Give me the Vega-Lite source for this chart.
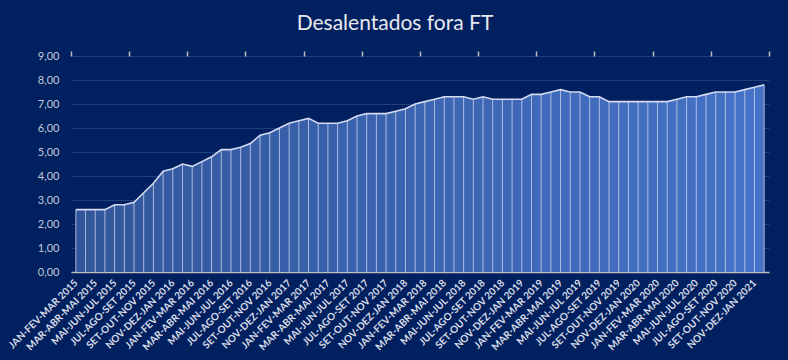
{
  "$schema": "https://vega.github.io/schema/vega-lite/v6.json",
  "autosize": "none",
  "width": 698,
  "height": 216,
  "padding": {"left": 71, "top": 56, "right": 19, "bottom": 88},
  "background": "#002060",
  "config": {
    "view": {"stroke": null},
    "font": "Lato"
  },
  "title": {
    "text": "Desalentados fora FT",
    "font": "Lato",
    "fontSize": 21,
    "fontWeight": "normal",
    "color": "#e8e8ec",
    "anchor": "middle",
    "dx": -25,
    "offset": 16
  },
  "data": {
    "values": [
      {"i": 0, "periodo": "JAN-FEV-MAR 2015", "valor": 2.6},
      {"i": 1, "periodo": "FEV-MAR-ABR 2015", "valor": 2.6},
      {"i": 2, "periodo": "MAR-ABR-MAI 2015", "valor": 2.6},
      {"i": 3, "periodo": "ABR-MAI-JUN 2015", "valor": 2.6},
      {"i": 4, "periodo": "MAI-JUN-JUL 2015", "valor": 2.8},
      {"i": 5, "periodo": "JUN-JUL-AGO 2015", "valor": 2.8},
      {"i": 6, "periodo": "JUL-AGO-SET 2015", "valor": 2.9},
      {"i": 7, "periodo": "AGO-SET-OUT 2015", "valor": 3.3},
      {"i": 8, "periodo": "SET-OUT-NOV 2015", "valor": 3.7},
      {"i": 9, "periodo": "OUT-NOV-DEZ 2015", "valor": 4.2},
      {"i": 10, "periodo": "NOV-DEZ-JAN 2016", "valor": 4.3},
      {"i": 11, "periodo": "DEZ-JAN-FEV 2016", "valor": 4.5},
      {"i": 12, "periodo": "JAN-FEV-MAR 2016", "valor": 4.4},
      {"i": 13, "periodo": "FEV-MAR-ABR 2016", "valor": 4.6},
      {"i": 14, "periodo": "MAR-ABR-MAI 2016", "valor": 4.8},
      {"i": 15, "periodo": "ABR-MAI-JUN 2016", "valor": 5.1},
      {"i": 16, "periodo": "MAI-JUN-JUL 2016", "valor": 5.1},
      {"i": 17, "periodo": "JUN-JUL-AGO 2016", "valor": 5.2},
      {"i": 18, "periodo": "JUL-AGO-SET 2016", "valor": 5.35},
      {"i": 19, "periodo": "AGO-SET-OUT 2016", "valor": 5.7},
      {"i": 20, "periodo": "SET-OUT-NOV 2016", "valor": 5.8},
      {"i": 21, "periodo": "OUT-NOV-DEZ 2016", "valor": 6.0},
      {"i": 22, "periodo": "NOV-DEZ-JAN 2017", "valor": 6.2},
      {"i": 23, "periodo": "DEZ-JAN-FEV 2017", "valor": 6.3},
      {"i": 24, "periodo": "JAN-FEV-MAR 2017", "valor": 6.4},
      {"i": 25, "periodo": "FEV-MAR-ABR 2017", "valor": 6.2},
      {"i": 26, "periodo": "MAR-ABR-MAI 2017", "valor": 6.2},
      {"i": 27, "periodo": "ABR-MAI-JUN 2017", "valor": 6.2},
      {"i": 28, "periodo": "MAI-JUN-JUL 2017", "valor": 6.3},
      {"i": 29, "periodo": "JUN-JUL-AGO 2017", "valor": 6.5},
      {"i": 30, "periodo": "JUL-AGO-SET 2017", "valor": 6.6},
      {"i": 31, "periodo": "AGO-SET-OUT 2017", "valor": 6.6},
      {"i": 32, "periodo": "SET-OUT-NOV 2017", "valor": 6.6},
      {"i": 33, "periodo": "OUT-NOV-DEZ 2017", "valor": 6.7},
      {"i": 34, "periodo": "NOV-DEZ-JAN 2018", "valor": 6.8},
      {"i": 35, "periodo": "DEZ-JAN-FEV 2018", "valor": 7.0},
      {"i": 36, "periodo": "JAN-FEV-MAR 2018", "valor": 7.1},
      {"i": 37, "periodo": "FEV-MAR-ABR 2018", "valor": 7.2},
      {"i": 38, "periodo": "MAR-ABR-MAI 2018", "valor": 7.3},
      {"i": 39, "periodo": "ABR-MAI-JUN 2018", "valor": 7.3},
      {"i": 40, "periodo": "MAI-JUN-JUL 2018", "valor": 7.3},
      {"i": 41, "periodo": "JUN-JUL-AGO 2018", "valor": 7.2},
      {"i": 42, "periodo": "JUL-AGO-SET 2018", "valor": 7.3},
      {"i": 43, "periodo": "AGO-SET-OUT 2018", "valor": 7.2},
      {"i": 44, "periodo": "SET-OUT-NOV 2018", "valor": 7.2},
      {"i": 45, "periodo": "OUT-NOV-DEZ 2018", "valor": 7.2},
      {"i": 46, "periodo": "NOV-DEZ-JAN 2019", "valor": 7.2},
      {"i": 47, "periodo": "DEZ-JAN-FEV 2019", "valor": 7.4},
      {"i": 48, "periodo": "JAN-FEV-MAR 2019", "valor": 7.4},
      {"i": 49, "periodo": "FEV-MAR-ABR 2019", "valor": 7.5},
      {"i": 50, "periodo": "MAR-ABR-MAI 2019", "valor": 7.6},
      {"i": 51, "periodo": "ABR-MAI-JUN 2019", "valor": 7.5},
      {"i": 52, "periodo": "MAI-JUN-JUL 2019", "valor": 7.5},
      {"i": 53, "periodo": "JUN-JUL-AGO 2019", "valor": 7.3},
      {"i": 54, "periodo": "JUL-AGO-SET 2019", "valor": 7.3},
      {"i": 55, "periodo": "AGO-SET-OUT 2019", "valor": 7.1},
      {"i": 56, "periodo": "SET-OUT-NOV 2019", "valor": 7.1},
      {"i": 57, "periodo": "OUT-NOV-DEZ 2019", "valor": 7.1},
      {"i": 58, "periodo": "NOV-DEZ-JAN 2020", "valor": 7.1},
      {"i": 59, "periodo": "DEZ-JAN-FEV 2020", "valor": 7.1},
      {"i": 60, "periodo": "JAN-FEV-MAR 2020", "valor": 7.1},
      {"i": 61, "periodo": "FEV-MAR-ABR 2020", "valor": 7.1},
      {"i": 62, "periodo": "MAR-ABR-MAI 2020", "valor": 7.2},
      {"i": 63, "periodo": "ABR-MAI-JUN 2020", "valor": 7.3},
      {"i": 64, "periodo": "MAI-JUN-JUL 2020", "valor": 7.3},
      {"i": 65, "periodo": "JUN-JUL-AGO 2020", "valor": 7.4},
      {"i": 66, "periodo": "JUL-AGO-SET 2020", "valor": 7.5},
      {"i": 67, "periodo": "AGO-SET-OUT 2020", "valor": 7.5},
      {"i": 68, "periodo": "SET-OUT-NOV 2020", "valor": 7.5},
      {"i": 69, "periodo": "OUT-NOV-DEZ 2020", "valor": 7.6},
      {"i": 70, "periodo": "NOV-DEZ-JAN 2021", "valor": 7.7},
      {"i": 71, "periodo": "DEZ-JAN-FEV 2021", "valor": 7.8}
    ]
  },
  "resolve": {"axis": {"x": "independent", "y": "independent"}},
  "layer": [
    {
      "mark": {
        "type": "area",
        "line": false,
        "color": {
          "gradient": "linear",
          "x1": 0, "x2": 1, "y1": 0, "y2": 0,
          "stops": [
            {"offset": 0, "color": "#31569b"},
            {"offset": 1, "color": "#4673c8"}
          ]
        }
      },
      "encoding": {
        "x": {
          "field": "periodo",
          "type": "ordinal",
          "sort": {"field": "i"},
          "scale": {"type": "point", "padding": 0.5},
          "title": null,
          "axis": {
            "values": ["JAN-FEV-MAR 2015","MAR-ABR-MAI 2015","MAI-JUN-JUL 2015","JUL-AGO-SET 2015","SET-OUT-NOV 2015","NOV-DEZ-JAN 2016","JAN-FEV-MAR 2016","MAR-ABR-MAI 2016","MAI-JUN-JUL 2016","JUL-AGO-SET 2016","SET-OUT-NOV 2016","NOV-DEZ-JAN 2017","JAN-FEV-MAR 2017","MAR-ABR-MAI 2017","MAI-JUN-JUL 2017","JUL-AGO-SET 2017","SET-OUT-NOV 2017","NOV-DEZ-JAN 2018","JAN-FEV-MAR 2018","MAR-ABR-MAI 2018","MAI-JUN-JUL 2018","JUL-AGO-SET 2018","SET-OUT-NOV 2018","NOV-DEZ-JAN 2019","JAN-FEV-MAR 2019","MAR-ABR-MAI 2019","MAI-JUN-JUL 2019","JUL-AGO-SET 2019","SET-OUT-NOV 2019","NOV-DEZ-JAN 2020","JAN-FEV-MAR 2020","MAR-ABR-MAI 2020","MAI-JUN-JUL 2020","JUL-AGO-SET 2020","SET-OUT-NOV 2020","NOV-DEZ-JAN 2021"],
            "labelAngle": -45,
            "labelAlign": "right",
            "labelBaseline": "middle",
            "labelPadding": 9,
            "labelFont": "Lato",
            "labelFontSize": 10,
            "labelFontWeight": "bold",
            "labelColor": "#d9dce6",
            "labelOverlap": false,
            "labelBound": false,
            "ticks": false,
            "domain": true,
            "domainColor": "#bfbfbf",
            "domainWidth": 1.5,
            "grid": false
          }
        },
        "y": {
          "field": "valor",
          "type": "quantitative",
          "scale": {"domain": [0, 9], "nice": false},
          "title": null,
          "axis": {
            "values": [0, 1, 2, 3, 4, 5, 6, 7, 8, 9],
            "labelExpr": "replace(format(datum.value, '.2f'), '.', ',')",
            "labelFont": "Lato",
            "labelFontSize": 11,
            "labelColor": "#c3c8d6",
            "labelPadding": 12,
            "domain": false,
            "ticks": false,
            "grid": true,
            "gridColor": "#213f7d",
            "gridWidth": 1
          }
        }
      }
    },
    {
      "mark": {"type": "rule", "color": "#c2cbea", "strokeWidth": 1, "opacity": 0.85},
      "encoding": {
        "x": {
          "field": "periodo",
          "type": "ordinal",
          "sort": {"field": "i"},
          "axis": {
            "values": ["JAN-FEV-MAR 2015","JUL-AGO-SET 2015","JAN-FEV-MAR 2016","JUL-AGO-SET 2016","JAN-FEV-MAR 2017","JUL-AGO-SET 2017","JAN-FEV-MAR 2018","JUL-AGO-SET 2018","JAN-FEV-MAR 2019","JUL-AGO-SET 2019","JAN-FEV-MAR 2020","JUL-AGO-SET 2020"],
            "labels": false,
            "domain": false,
            "grid": false,
            "ticks": true,
            "tickColor": "#bfbfbf",
            "tickWidth": 1.5,
            "tickSize": 5,
            "tickOffset": -4.85,
            "title": null
          }
        },
        "y": {"field": "valor", "type": "quantitative", "axis": null},
        "y2": {"datum": 0}
      }
    },
    {
      "mark": {"type": "line", "color": "#d3daf1", "strokeWidth": 1.6},
      "encoding": {
        "x": {
          "field": "periodo",
          "type": "ordinal",
          "sort": {"field": "i"},
          "axis": {
            "values": ["DEZ-JAN-FEV 2021"],
            "labels": false,
            "domain": false,
            "grid": false,
            "ticks": true,
            "tickColor": "#bfbfbf",
            "tickWidth": 1.5,
            "tickSize": 5,
            "tickOffset": 4.85,
            "title": null
          }
        },
        "y": {"field": "valor", "type": "quantitative", "axis": null}
      }
    }
  ]
}
